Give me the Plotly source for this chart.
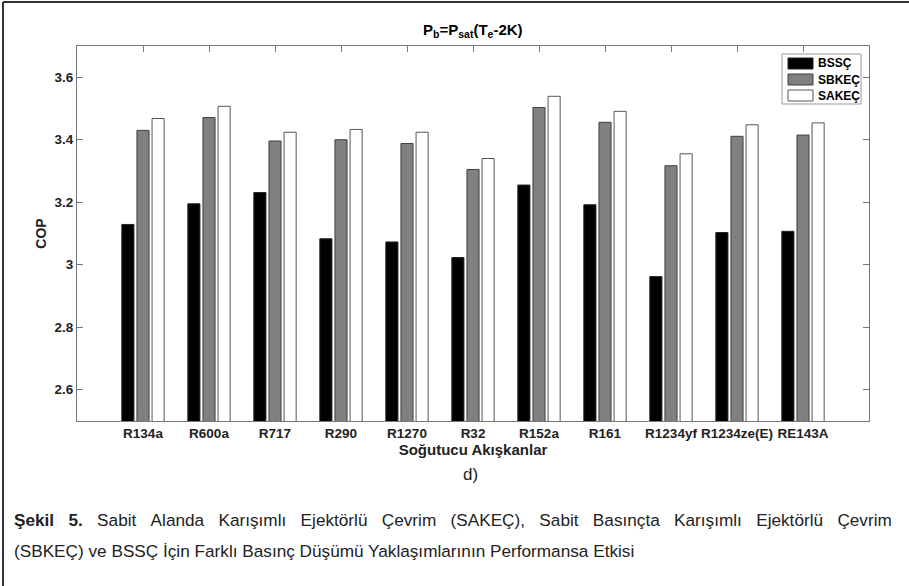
import plotly.graph_objects as go

categories = ["R134a", "R600a", "R717", "R290", "R1270", "R32", "R152a", "R161",
              "R1234yf", "R1234ze(E)", "RE143A"]
bssc = [3.129, 3.195, 3.231, 3.083, 3.073, 3.023, 3.255, 3.192, 2.962, 3.103, 3.107]
sbkec = [3.430, 3.471, 3.396, 3.400, 3.388, 3.305, 3.503, 3.456, 3.317, 3.411, 3.415]
sakec = [3.468, 3.507, 3.424, 3.433, 3.424, 3.340, 3.539, 3.491, 3.355, 3.448, 3.454]
series_names = ["BSSÇ", "SBKEÇ", "SAKEÇ"]
y_ticks = [2.6, 2.8, 3.0, 3.2, 3.4, 3.6]
y_ticktext = ["2.6", "2.8", "3", "3.2", "3.4", "3.6"]

W, H = 909, 586
L, R, T, B = 77, 869, 46, 421
pw, ph = R - L, B - T

def px(x):
    return (x - L) / pw

def py(y):
    return (B - y) / ph

FONT = "Liberation Sans, Arial, Helvetica, sans-serif"
TXT = "#222222"
AX = "#777777"

fig = go.Figure()
fills = ["#000000", "#808080", "#ffffff"]
edges = ["#222222", "#404040", "#555555"]
for name, vals, fc, ec in zip(series_names, [bssc, sbkec, sakec], fills, edges):
    fig.add_trace(go.Bar(x=categories, y=vals, name=name, showlegend=False,
                         marker=dict(color=fc, line=dict(color=ec, width=1))))

fig.update_layout(
    width=W, height=H,
    margin=dict(l=L, r=W - R, t=T, b=H - B, pad=0),
    paper_bgcolor="white", plot_bgcolor="white",
    barmode="group", bargap=0.313, bargroupgap=0.2,
    font=dict(family=FONT, color=TXT),
    xaxis=dict(type="category", range=[-1, 11], showgrid=False,
               showline=True, linecolor=AX, linewidth=1, mirror="ticks",
               ticks="inside", ticklen=6, tickcolor=AX,
               tickfont=dict(size=13.5, family=FONT, color=TXT, weight="bold"),
               title=dict(text="Soğutucu Akışkanlar", standoff=2,
                          font=dict(size=15, family=FONT, color=TXT, weight="bold"))),
    yaxis=dict(range=[2.5, 3.7], showgrid=False, zeroline=False,
               tickvals=y_ticks, ticktext=y_ticktext,
               showline=True, linecolor=AX, linewidth=1, mirror="ticks",
               ticks="inside", ticklen=6, tickcolor=AX,
               tickfont=dict(size=13.5, family=FONT, color=TXT, weight="bold"),
               title=dict(text="COP", standoff=4,
                          font=dict(size=14, family=FONT, color=TXT, weight="bold"))),
)

# caption: first line is justified in the reference, emulate with wider word gaps
cap1_words = ["<b>Şekil", "5.</b>", "Sabit", "Alanda", "Karışımlı", "Ejektörlü", "Çevrim",
              "(SAKEÇ),", "Sabit", "Basınçta", "Karışımlı", "Ejektörlü", "Çevrim"]
cap2 = "(SBKEÇ) ve BSSÇ İçin Farklı Basınç Düşümü Yaklaşımlarının Performansa Etkisi"
gap = " \u00a0\u00a0"
cap1 = gap.join(cap1_words)
CAP = 17.2

ann = []
ann.append(dict(text="P<sub>b</sub>=P<sub>sat</sub>(T<sub>e</sub>-2K)", xref="paper", yref="paper",
                x=0.5, y=py(30), xanchor="center", yanchor="middle", showarrow=False,
                font=dict(size=15, family=FONT, color="#000000", weight="bold")))
ann.append(dict(text="d)", xref="paper", yref="paper", x=px(470), y=py(474),
                xanchor="center", yanchor="middle", showarrow=False,
                font=dict(size=17, family=FONT, color="#222222")))
ann.append(dict(text=cap1, xref="paper", yref="paper", x=px(12), y=py(520), xanchor="left",
                yanchor="middle", showarrow=False, font=dict(size=CAP, family=FONT, color="#222222")))
ann.append(dict(text=cap2, xref="paper", yref="paper", x=px(12), y=py(551), xanchor="left",
                yanchor="middle", showarrow=False, font=dict(size=CAP, family=FONT, color="#222222")))

# legend (box, swatches, labels)
shapes = []
shapes.append(dict(type="rect", xref="paper", yref="paper", x0=px(782), x1=px(861),
                   y0=py(104), y1=py(54), fillcolor="white", line=dict(color="#999999", width=1),
                   layer="above"))
row_c = [63.5, 79.5, 95.5]
for name, fc, ec, yc in zip(series_names, fills, edges, row_c):
    shapes.append(dict(type="rect", xref="paper", yref="paper", x0=px(788), x1=px(813),
                       y0=py(yc + 5.5), y1=py(yc - 5.5), fillcolor=fc,
                       line=dict(color=ec, width=1), layer="above"))
    ann.append(dict(text=name, xref="paper", yref="paper", x=px(816), y=py(yc),
                    xanchor="left", yanchor="middle", showarrow=False,
                    font=dict(size=12, family=FONT, color="#000000", weight="bold")))

# outer frame (left and top)
shapes.append(dict(type="line", xref="paper", yref="paper", x0=px(3), x1=px(3), y0=py(2), y1=py(586),
                   line=dict(color="#333333", width=2)))
shapes.append(dict(type="line", xref="paper", yref="paper", x0=px(3), x1=px(909), y0=py(2), y1=py(2),
                   line=dict(color="#333333", width=2)))

fig.update_layout(annotations=ann, shapes=shapes)

fig.write_html("out.html", config={"displayModeBar": False},
               post_script="document.body.style.margin='0';document.body.style.padding='0';")
